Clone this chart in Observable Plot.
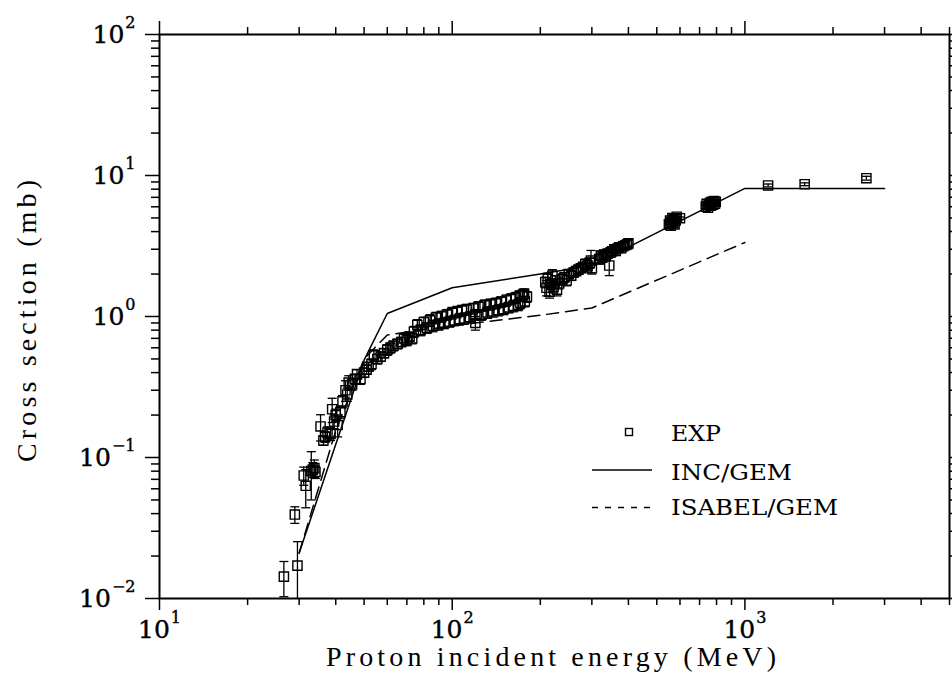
<!DOCTYPE html>
<html><head><meta charset="utf-8">
<script src="https://cdn.jsdelivr.net/npm/d3@7"></script>
<script src="https://cdn.jsdelivr.net/npm/@observablehq/plot@0.6"></script>
<style>body{margin:0;background:#fff;} svg{display:block;}</style>
</head><body><div id="chart"></div>
<script>
// Axis ticks
const xMajor = [10, 100, 1000];
const xMinor = [20,30,40,50,60,70,80,90,200,300,400,500,600,700,800,900,2000,3000,4000,5000];
const yMajor = [0.01, 0.1, 1, 10, 100];
const yMinor = [0.02,0.03,0.04,0.05,0.06,0.07,0.08,0.09,0.2,0.3,0.4,0.5,0.6,0.7,0.8,0.9,2,3,4,5,6,7,8,9,20,30,40,50,60,70,80,90];

// INC/GEM (solid)
const incE = [30, 50, 60, 100, 200, 300, 1000, 3000];
const incS = [0.021, 0.49, 1.05, 1.6, 2.0, 2.3, 8.1, 8.1];
// ISABEL/GEM (dashed)
const isaE = [30, 40, 50, 60, 100, 200, 300, 1000];
const isaS = [0.021, 0.155, 0.50, 0.74, 0.86, 1.02, 1.15, 3.35];

// EXP: energy (MeV), cross section (mb), error (mb)
const expE = [26.6,29.0,29.6,31.1,31.6,33.0,33.4,33.8,34.1,35.5,36.3,36.8,37.5,38.4,38.9,39.5,40.0,40.6,41.5,42.2,43.2,43.8,44.3,45.5,46.5,47.3,48.6,50.0,51.0,51.8,53.0,54.0,55.5,57.0,58.5,60.0,61.5,63.0,65.0,67.0,68.5,70.0,71.5,73.0,
 74,76,78,80,82,84,86,88,90,92,94,96,98,100,102,104,106,108,110,112,115,118,120,120,123,126,129,132,135,138,141,144,147,150,153,156,159,162,165,168,170,171,174,176,177,180,
 208,210,212,215,218,220,222,225,228,232,238,242,246,250,255,260,265,270,275,280,285,290,295,298,300,
 318,322,326,330,335,340,344,348,352,358,362,368,372,378,384,390,396,400,
 550,555,558,560,565,568,572,575,580,585,600,
 735,740,748,752,760,765,770,778,785,790,795,
 1200,1600,2600];
const expS = [0.0143,0.0394,0.0171,0.0745,0.063,0.080,0.082,0.084,0.079,0.166,0.132,0.14,0.15,0.147,0.22,0.18,0.20,0.17,0.21,0.25,0.30,0.28,0.34,0.33,0.36,0.39,0.36,0.40,0.42,0.44,0.46,0.53,0.50,0.52,0.55,0.58,0.60,0.62,0.64,0.66,0.70,0.68,0.72,0.70,
 0.78,0.87,0.80,0.91,0.83,0.94,0.86,0.98,0.88,1.00,0.90,1.03,0.92,1.06,0.94,1.08,0.96,1.10,0.97,1.12,0.99,1.14,1.03,0.90,1.17,1.03,1.20,1.07,1.22,1.09,1.24,1.11,1.27,1.13,1.30,1.16,1.33,1.19,1.36,1.21,1.40,1.25,1.42,1.45,1.28,1.38,
 1.75,1.60,1.85,1.50,1.70,1.95,1.62,1.80,1.55,1.72,1.85,1.90,1.80,2.00,1.95,2.05,2.10,2.15,2.20,2.25,2.35,2.30,2.40,2.49,2.20,
 2.55,2.70,2.62,2.75,2.68,2.80,2.30,2.85,2.90,3.00,2.92,3.05,3.10,3.05,3.15,3.20,3.25,3.30,
 4.5,4.8,4.4,4.7,5.0,4.6,4.9,4.5,4.8,5.1,4.98,
 6.0,6.3,5.9,6.2,6.4,6.1,6.5,6.2,6.6,6.3,6.5,
 8.5,8.67,9.57];
const expErr = [0.004,0.0053,0.0082,0.011,0.019,0.03,0.01,0.012,0.008,0.035,0.01,0.012,0.015,0.015,0.043,0.02,0.02,0.03,0.02,0.025,0.05,0.03,0.04,0.03,0.03,0.03,0.03,0.03,0.03,0.03,0.04,0.05,0.04,0.04,0.04,0.05,0.05,0.05,0.05,0.05,0.05,0.06,0.05,0.06,
 0.07,0.08,0.07,0.08,0.07,0.09,0.08,0.09,0.08,0.09,0.08,0.09,0.08,0.10,0.08,0.10,0.09,0.10,0.09,0.10,0.09,0.10,0.09,0.10,0.10,0.09,0.11,0.10,0.11,0.10,0.11,0.10,0.11,0.10,0.12,0.10,0.12,0.11,0.12,0.11,0.12,0.11,0.12,0.12,0.11,0.12,
 0.15,0.2,0.18,0.15,0.15,0.2,0.15,0.15,0.15,0.15,0.15,0.15,0.15,0.15,0.15,0.15,0.15,0.15,0.15,0.15,0.2,0.2,0.2,0.45,0.2,
 0.2,0.2,0.2,0.2,0.2,0.2,0.35,0.2,0.2,0.2,0.2,0.2,0.2,0.2,0.2,0.2,0.2,0.2,
 0.2,0.2,0.2,0.2,0.2,0.2,0.2,0.2,0.2,0.2,0.1,
 0.2,0.2,0.2,0.2,0.2,0.2,0.2,0.2,0.2,0.2,0.2,
 0.2,0.2,0.3];

const incData = incE.map((e,i)=>({e, s: incS[i]}));
const isaData = isaE.map((e,i)=>({e, s: isaS[i]}));
const expData = expE.map((e,i)=>({e, s: expS[i], lo: expS[i]-expErr[i], hi: expS[i]+expErr[i]}));
const caps = expData.flatMap(d => [{e: d.e, v: d.lo}, {e: d.e, v: d.hi}]);

const capSymbol = { draw(ctx, size) { const w = Math.sqrt(size / Math.PI); ctx.moveTo(-w, 0); ctx.lineTo(w, 0); } };
const supFmt = d => "10^" + Math.round(Math.log10(d));
const blank = () => "";

const FONT = "DejaVu Serif";
const chart = Plot.plot({
  width: 952, height: 673,
  marginLeft: 159, marginRight: 3, marginTop: 34, marginBottom: 75,
  style: {fontFamily: FONT, background: "#fff", color: "#000"},
  x: {type: "log", domain: [10, 5000]},
  y: {type: "log", domain: [0.01, 100]},
  marks: [
    Plot.axisX(xMajor, {anchor: "bottom", tickSize: 12, tickPadding: 10, tickFormat: supFmt, fontSize: 25, strokeWidth: 1.5, label: null}),
    Plot.axisX(xMinor, {anchor: "bottom", tickSize: 7, tickFormat: blank, strokeWidth: 1.5, label: null}),
    Plot.axisX(xMajor, {anchor: "top", tickSize: 14, tickFormat: blank, strokeWidth: 1.5, label: null}),
    Plot.axisX(xMinor, {anchor: "top", tickSize: 8, tickFormat: blank, strokeWidth: 1.5, label: null}),
    Plot.axisY(yMajor, {anchor: "left", tickSize: 14, tickPadding: 10, tickFormat: supFmt, fontSize: 25, strokeWidth: 1.5, label: null}),
    Plot.axisY(yMinor, {anchor: "left", tickSize: 8, tickFormat: blank, strokeWidth: 1.5, label: null}),
    Plot.axisY(yMajor, {anchor: "right", tickSize: 14, tickFormat: blank, strokeWidth: 1.5, label: null}),
    Plot.axisY(yMinor, {anchor: "right", tickSize: 8, tickFormat: blank, strokeWidth: 1.5, label: null}),
    Plot.frame({strokeWidth: 2}),
    Plot.line(incData, {x: "e", y: "s", stroke: "#000", strokeWidth: 1.5, clip: true}),
    Plot.line(isaData, {x: "e", y: "s", stroke: "#000", strokeWidth: 1.5, strokeDasharray: "12,7", clip: true}),
    Plot.ruleX(expData, {x: "e", y1: "lo", y2: "hi", stroke: "#000", strokeWidth: 1.3, clip: true}),
    Plot.dot(caps, {x: "e", y: "v", symbol: capSymbol, r: 4.5, stroke: "#000", strokeWidth: 1.3, clip: true}),
    Plot.dot(expData, {x: "e", y: "s", symbol: "square", r: 5.2, stroke: "#000", fill: "none", strokeWidth: 1.4, clip: true})
  ]
});
document.getElementById("chart").appendChild(chart);

const svg = d3.select(chart);
// superscript tick labels
svg.selectAll("text").each(function() {
  const t = this.textContent;
  const m = /^10\^(-?\d+)$/.exec(t);
  if (m) {
    const exp = m[1].replace("-", "\u2212");
    this.textContent = "10";
    d3.select(this).attr("stroke", "#000").attr("stroke-width", 0.4);
    d3.select(this).append("tspan").attr("dy", "-15").attr("font-size", "16").attr("dx", "1").text(exp);
  }
});

// axis titles
svg.append("text").attr("x", 551).attr("y", 666).attr("text-anchor", "middle")
  .attr("font-family", "Liberation Serif").attr("font-size", 28).attr("textLength", 450).attr("lengthAdjust", "spacing")
  .attr("fill", "#000")
  .text("Proton incident energy (MeV)");
svg.append("text").attr("transform", "translate(36,321) rotate(-90)").attr("text-anchor", "middle")
  .attr("font-family", "Liberation Serif").attr("font-size", 28).attr("textLength", 282).attr("lengthAdjust", "spacing")
  .attr("fill", "#000")
  .text("Cross section (mb)");

// legend
const lg = svg.append("g").attr("font-family", FONT).attr("font-size", 22).attr("fill", "#000").attr("text-anchor", "start");
lg.append("rect").attr("x", 625.5).attr("y", 428.5).attr("width", 7).attr("height", 7).attr("fill", "none").attr("stroke", "#000").attr("stroke-width", 1.4);
lg.append("text").attr("x", 671).attr("y", 441).attr("text-anchor", "start").attr("textLength", 50).attr("lengthAdjust", "spacingAndGlyphs").text("EXP");
lg.append("line").attr("x1", 592).attr("x2", 652).attr("y1", 470).attr("y2", 470).attr("stroke", "#000").attr("stroke-width", 1.5);
lg.append("text").attr("x", 671).attr("y", 480).attr("text-anchor", "start").attr("textLength", 121).attr("lengthAdjust", "spacingAndGlyphs").text("INC/GEM");
lg.append("line").attr("x1", 592).attr("x2", 652).attr("y1", 507.5).attr("y2", 507.5).attr("stroke", "#000").attr("stroke-width", 1.5).attr("stroke-dasharray", "6,7");
lg.append("text").attr("x", 671).attr("y", 515).attr("text-anchor", "start").attr("textLength", 167).attr("lengthAdjust", "spacingAndGlyphs").text("ISABEL/GEM");
</script>
</body></html>
